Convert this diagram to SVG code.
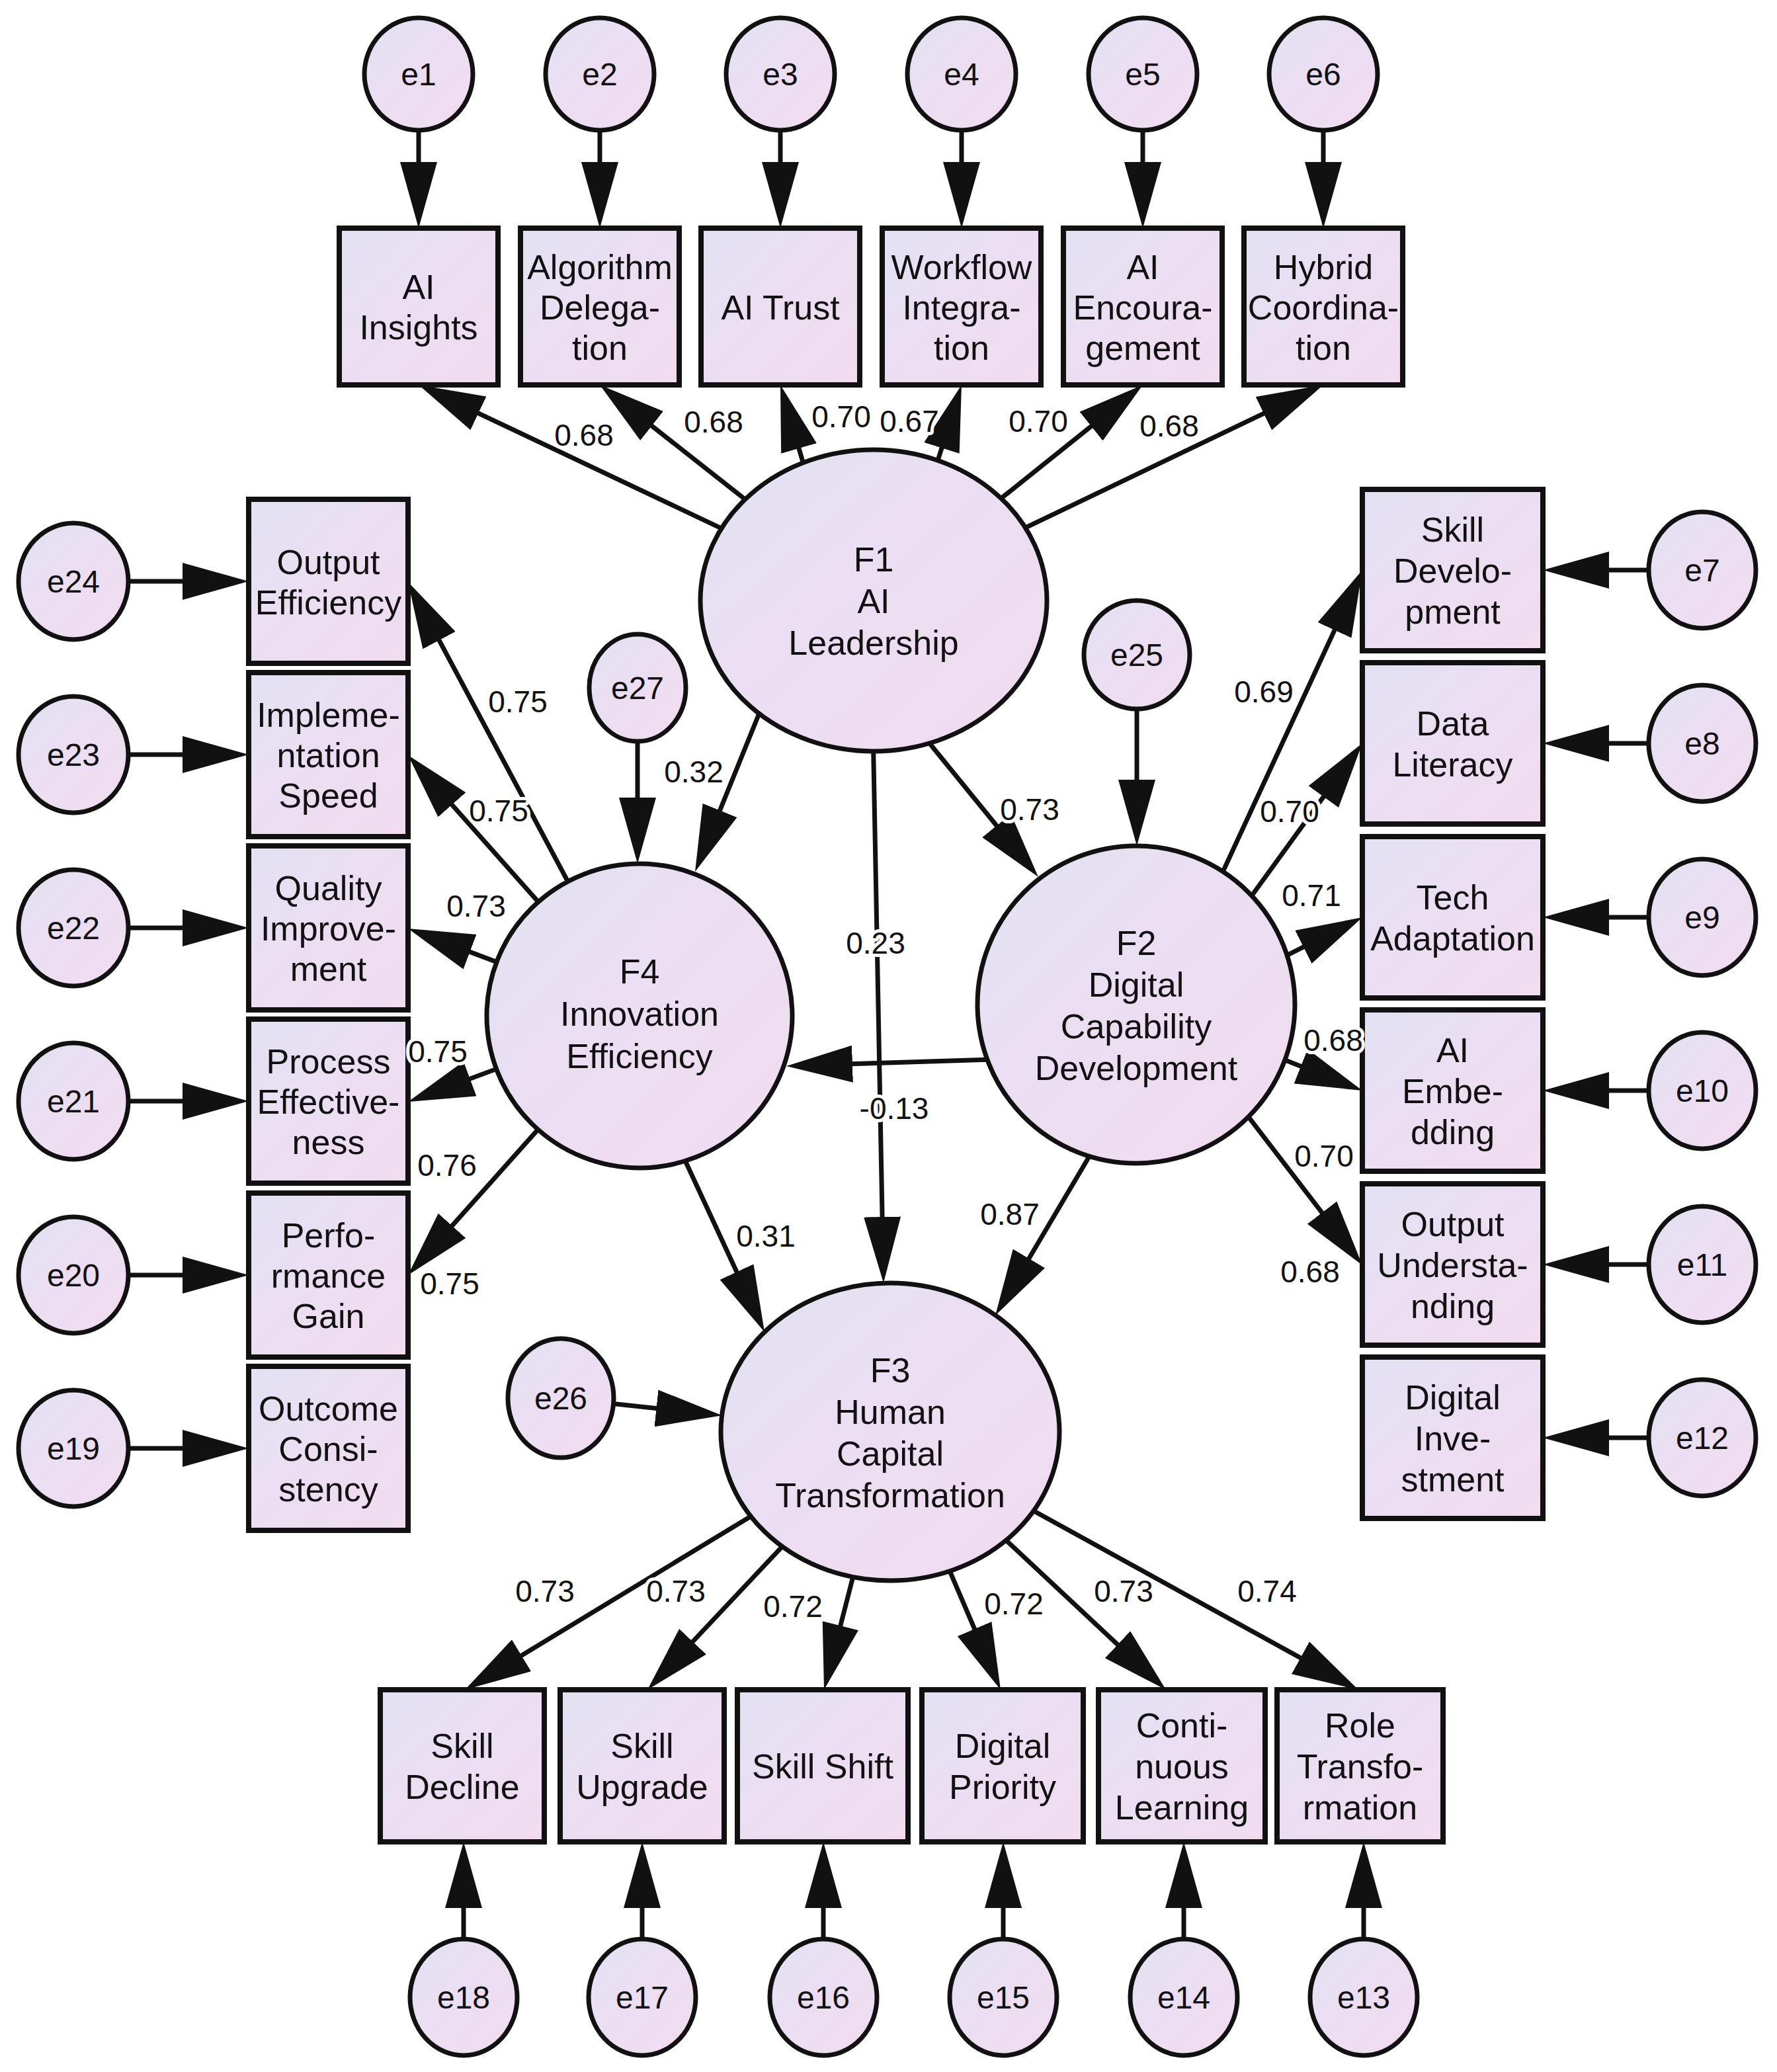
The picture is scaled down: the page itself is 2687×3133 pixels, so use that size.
<svg xmlns="http://www.w3.org/2000/svg" width="2687" height="3133" viewBox="0 0 2687 3133">
<defs>
<linearGradient id="g" x1="0" y1="0" x2="1" y2="1">
<stop offset="0" stop-color="#e2e1f3"/>
<stop offset="0.5" stop-color="#ecdef2"/>
<stop offset="1" stop-color="#f1dbef"/>
</linearGradient>
<marker id="ah" markerUnits="userSpaceOnUse" viewBox="0 0 100 56" markerWidth="100" markerHeight="56" refX="80" refY="28" orient="auto">
<path d="M0,0 L100,28 L0,56 Z" fill="#111"/>
</marker>
<style>
.n{fill:url(#g);stroke:#111;stroke-width:7}
.b{fill:url(#g);stroke:#111;stroke-width:8}
#connectors line{stroke:#111;stroke-width:7;marker-end:url(#ah)}
text{font-family:"Liberation Sans",Arial,sans-serif;fill:#111;text-anchor:middle}
.t{font-size:52px}
.e{font-size:48px}
.l{font-size:46px;stroke:#fff;stroke-width:10px;paint-order:stroke;stroke-linejoin:round}
</style>
</defs>
<rect width="2687" height="3133" fill="#fff"/>

<g id="connectors">
<line x1="633" y1="112" x2="633" y2="325"/>
<line x1="907" y1="112" x2="907" y2="325"/>
<line x1="1180" y1="112" x2="1180" y2="325"/>
<line x1="1454" y1="112" x2="1454" y2="325"/>
<line x1="1728" y1="112" x2="1728" y2="325"/>
<line x1="2001" y1="112" x2="2001" y2="325"/>
<line x1="1321" y1="908" x2="651.1" y2="590.6"/>
<line x1="1321" y1="908" x2="922.7" y2="594.4"/>
<line x1="1232" y1="760" x2="1185.6" y2="601.2"/>
<line x1="1398" y1="760" x2="1448" y2="601.1"/>
<line x1="1321" y1="908" x2="1712.4" y2="594.5"/>
<line x1="1321" y1="908" x2="1983" y2="590.6"/>
<line x1="111" y1="879" x2="356" y2="879"/>
<line x1="111" y1="1141" x2="356" y2="1141"/>
<line x1="111" y1="1403" x2="356" y2="1403"/>
<line x1="111" y1="1665" x2="356" y2="1665"/>
<line x1="111" y1="1928" x2="356" y2="1928"/>
<line x1="111" y1="2190" x2="356" y2="2190"/>
<line x1="967" y1="1536" x2="626.4" y2="897.6"/>
<line x1="967" y1="1536" x2="630.3" y2="1157"/>
<line x1="967" y1="1536" x2="635.7" y2="1411.1"/>
<line x1="967" y1="1536" x2="635.7" y2="1659"/>
<line x1="967" y1="1536" x2="630.3" y2="1913.1"/>
<line x1="2574" y1="862" x2="2353" y2="862"/>
<line x1="2574" y1="1124" x2="2353" y2="1124"/>
<line x1="2574" y1="1387" x2="2353" y2="1387"/>
<line x1="2574" y1="1649" x2="2353" y2="1649"/>
<line x1="2574" y1="1912" x2="2353" y2="1912"/>
<line x1="2574" y1="2174" x2="2353" y2="2174"/>
<line x1="1838.4" y1="1341.2" x2="2051.6" y2="880.2"/>
<line x1="1880.5" y1="1371.3" x2="2048.3" y2="1140"/>
<line x1="1925.4" y1="1454.8" x2="2042.3" y2="1396"/>
<line x1="1918.1" y1="1593" x2="2041.4" y2="1641.7"/>
<line x1="1872.7" y1="1669.2" x2="2047.8" y2="1897.1"/>
<line x1="701" y1="3020" x2="701" y2="2805"/>
<line x1="971" y1="3020" x2="971" y2="2805"/>
<line x1="1245" y1="3020" x2="1245" y2="2805"/>
<line x1="1517" y1="3020" x2="1517" y2="2805"/>
<line x1="1790" y1="3020" x2="1790" y2="2805"/>
<line x1="2062" y1="3020" x2="2062" y2="2805"/>
<line x1="1346" y1="2165" x2="720.1" y2="2544.7"/>
<line x1="1346" y1="2165" x2="992.7" y2="2540.5"/>
<line x1="1346" y1="2165" x2="1251" y2="2535.6"/>
<line x1="1346" y1="2165" x2="1505.1" y2="2536.6"/>
<line x1="1346" y1="2165" x2="1748.4" y2="2541.4"/>
<line x1="1346" y1="2165" x2="2036.5" y2="2545.4"/>
<line x1="1160" y1="1049" x2="1058.5" y2="1299.5"/>
<line x1="1391" y1="1106" x2="1557.4" y2="1310.5"/>
<line x1="1320" y1="1100" x2="1335.6" y2="1920"/>
<line x1="1500" y1="1602" x2="1209" y2="1611.3"/>
<line x1="1024" y1="1729" x2="1147.6" y2="1995.8"/>
<line x1="1661" y1="1725" x2="1515.2" y2="1971.8"/>
<line x1="1719" y1="990" x2="1719" y2="1259"/>
<line x1="964" y1="1040" x2="964" y2="1286"/>
<line x1="848" y1="2114" x2="1072" y2="2138"/>
</g>

<g id="F1"><ellipse class="n" cx="1321" cy="908" rx="262" ry="228"/>
<text class="t" x="1321" y="864">F1</text><text class="t" x="1321" y="927">AI</text><text class="t" x="1321" y="990">Leadership</text></g>
<g id="F2"><ellipse class="n" cx="1718" cy="1519" rx="240" ry="240"/>
<text class="t" x="1718" y="1443.5">F2</text><text class="t" x="1718" y="1506.5">Digital</text><text class="t" x="1718" y="1569.5">Capability</text><text class="t" x="1718" y="1632.5">Development</text></g>
<g id="F3"><ellipse class="n" cx="1346" cy="2165" rx="256" ry="225"/>
<text class="t" x="1346" y="2089.5">F3</text><text class="t" x="1346" y="2152.5">Human</text><text class="t" x="1346" y="2215.5">Capital</text><text class="t" x="1346" y="2278.5">Transformation</text></g>
<g id="F4"><ellipse class="n" cx="967" cy="1536" rx="231" ry="230"/>
<text class="t" x="967" y="1487">F4</text><text class="t" x="967" y="1551">Innovation</text><text class="t" x="967" y="1615">Efficiency</text></g>

<g id="AI_Insights"><rect class="b" x="513" y="345" width="240" height="237"/>
<text class="t" x="633" y="452">AI</text><text class="t" x="633" y="513">Insights</text></g>
<g id="Algorithm_Delegation"><rect class="b" x="787" y="345" width="240" height="237"/>
<text class="t" x="907" y="421.5">Algorithm</text><text class="t" x="907" y="482.5">Delega-</text><text class="t" x="907" y="543.5">tion</text></g>
<g id="AI_Trust"><rect class="b" x="1060" y="345" width="240" height="237"/>
<text class="t" x="1180" y="482.5">AI Trust</text></g>
<g id="Workflow_Integration"><rect class="b" x="1334" y="345" width="240" height="237"/>
<text class="t" x="1454" y="421.5">Workflow</text><text class="t" x="1454" y="482.5">Integra-</text><text class="t" x="1454" y="543.5">tion</text></g>
<g id="AI_Encouragement"><rect class="b" x="1608" y="345" width="240" height="237"/>
<text class="t" x="1728" y="421.5">AI</text><text class="t" x="1728" y="482.5">Encoura-</text><text class="t" x="1728" y="543.5">gement</text></g>
<g id="Hybrid_Coordination"><rect class="b" x="1881" y="345" width="240" height="237"/>
<text class="t" x="2001" y="421.5">Hybrid</text><text class="t" x="2001" y="482.5">Coordina-</text><text class="t" x="2001" y="543.5">tion</text></g>

<g id="Output_Efficiency"><rect class="b" x="376" y="755" width="241" height="248"/>
<text class="t" x="496.5" y="867.5">Output</text><text class="t" x="496.5" y="928.5">Efficiency</text></g>
<g id="Implementation_Speed"><rect class="b" x="376" y="1017" width="241" height="248"/>
<text class="t" x="496.5" y="1099">Impleme-</text><text class="t" x="496.5" y="1160">ntation</text><text class="t" x="496.5" y="1221">Speed</text></g>
<g id="Quality_Improvement"><rect class="b" x="376" y="1279" width="241" height="248"/>
<text class="t" x="496.5" y="1361">Quality</text><text class="t" x="496.5" y="1422">Improve-</text><text class="t" x="496.5" y="1483">ment</text></g>
<g id="Process_Effectiveness"><rect class="b" x="376" y="1541" width="241" height="248"/>
<text class="t" x="496.5" y="1623">Process</text><text class="t" x="496.5" y="1684">Effective-</text><text class="t" x="496.5" y="1745">ness</text></g>
<g id="Performance_Gain"><rect class="b" x="376" y="1804" width="241" height="248"/>
<text class="t" x="496.5" y="1886">Perfo-</text><text class="t" x="496.5" y="1947">rmance</text><text class="t" x="496.5" y="2008">Gain</text></g>
<g id="Outcome_Consistency"><rect class="b" x="376" y="2066" width="241" height="248"/>
<text class="t" x="496.5" y="2148">Outcome</text><text class="t" x="496.5" y="2209">Consi-</text><text class="t" x="496.5" y="2270">stency</text></g>

<g id="Skill_Development"><rect class="b" x="2060" y="740" width="273" height="244"/>
<text class="t" x="2196.5" y="819">Skill</text><text class="t" x="2196.5" y="881">Develo-</text><text class="t" x="2196.5" y="943">pment</text></g>
<g id="Data_Literacy"><rect class="b" x="2060" y="1002" width="273" height="244"/>
<text class="t" x="2196.5" y="1112">Data</text><text class="t" x="2196.5" y="1174">Literacy</text></g>
<g id="Tech_Adaptation"><rect class="b" x="2060" y="1265" width="273" height="244"/>
<text class="t" x="2196.5" y="1375">Tech</text><text class="t" x="2196.5" y="1437">Adaptation</text></g>
<g id="AI_Embedding"><rect class="b" x="2060" y="1527" width="273" height="244"/>
<text class="t" x="2196.5" y="1606">AI</text><text class="t" x="2196.5" y="1668">Embe-</text><text class="t" x="2196.5" y="1730">dding</text></g>
<g id="Output_Understanding"><rect class="b" x="2060" y="1790" width="273" height="244"/>
<text class="t" x="2196.5" y="1869">Output</text><text class="t" x="2196.5" y="1931">Understa-</text><text class="t" x="2196.5" y="1993">nding</text></g>
<g id="Digital_Investment"><rect class="b" x="2060" y="2052" width="273" height="244"/>
<text class="t" x="2196.5" y="2131">Digital</text><text class="t" x="2196.5" y="2193">Inve-</text><text class="t" x="2196.5" y="2255">stment</text></g>

<g id="Skill_Decline"><rect class="b" x="575" y="2555" width="248" height="230"/>
<text class="t" x="699" y="2658">Skill</text><text class="t" x="699" y="2720">Decline</text></g>
<g id="Skill_Upgrade"><rect class="b" x="847" y="2555" width="248" height="230"/>
<text class="t" x="971" y="2658">Skill</text><text class="t" x="971" y="2720">Upgrade</text></g>
<g id="Skill_Shift"><rect class="b" x="1115" y="2555" width="258" height="230"/>
<text class="t" x="1244" y="2689">Skill Shift</text></g>
<g id="Digital_Priority"><rect class="b" x="1394" y="2555" width="244" height="230"/>
<text class="t" x="1516" y="2658">Digital</text><text class="t" x="1516" y="2720">Priority</text></g>
<g id="Continuous_Learning"><rect class="b" x="1661" y="2555" width="252" height="230"/>
<text class="t" x="1787" y="2627">Conti-</text><text class="t" x="1787" y="2689">nuous</text><text class="t" x="1787" y="2751">Learning</text></g>
<g id="Role_Transformation"><rect class="b" x="1931" y="2555" width="251" height="230"/>
<text class="t" x="2056.5" y="2627">Role</text><text class="t" x="2056.5" y="2689">Transfo-</text><text class="t" x="2056.5" y="2751">rmation</text></g>

<g id="e1"><ellipse class="n" cx="633" cy="112" rx="82" ry="85"/><text class="e" x="633" y="129">e1</text></g>
<g id="e2"><ellipse class="n" cx="907" cy="112" rx="82" ry="85"/><text class="e" x="907" y="129">e2</text></g>
<g id="e3"><ellipse class="n" cx="1180" cy="112" rx="82" ry="85"/><text class="e" x="1180" y="129">e3</text></g>
<g id="e4"><ellipse class="n" cx="1454" cy="112" rx="82" ry="85"/><text class="e" x="1454" y="129">e4</text></g>
<g id="e5"><ellipse class="n" cx="1728" cy="112" rx="82" ry="85"/><text class="e" x="1728" y="129">e5</text></g>
<g id="e6"><ellipse class="n" cx="2001" cy="112" rx="82" ry="85"/><text class="e" x="2001" y="129">e6</text></g>
<g id="e7"><ellipse class="n" cx="2574" cy="862" rx="81" ry="88"/><text class="e" x="2574" y="879">e7</text></g>
<g id="e8"><ellipse class="n" cx="2574" cy="1124" rx="81" ry="88"/><text class="e" x="2574" y="1141">e8</text></g>
<g id="e9"><ellipse class="n" cx="2574" cy="1387" rx="81" ry="88"/><text class="e" x="2574" y="1404">e9</text></g>
<g id="e10"><ellipse class="n" cx="2574" cy="1649" rx="81" ry="88"/><text class="e" x="2574" y="1666">e10</text></g>
<g id="e11"><ellipse class="n" cx="2574" cy="1912" rx="81" ry="88"/><text class="e" x="2574" y="1929">e11</text></g>
<g id="e12"><ellipse class="n" cx="2574" cy="2174" rx="81" ry="88"/><text class="e" x="2574" y="2191">e12</text></g>
<g id="e13"><ellipse class="n" cx="2062" cy="3020" rx="81" ry="88"/><text class="e" x="2062" y="3037">e13</text></g>
<g id="e14"><ellipse class="n" cx="1790" cy="3020" rx="81" ry="88"/><text class="e" x="1790" y="3037">e14</text></g>
<g id="e15"><ellipse class="n" cx="1517" cy="3020" rx="81" ry="88"/><text class="e" x="1517" y="3037">e15</text></g>
<g id="e16"><ellipse class="n" cx="1245" cy="3020" rx="81" ry="88"/><text class="e" x="1245" y="3037">e16</text></g>
<g id="e17"><ellipse class="n" cx="971" cy="3020" rx="81" ry="88"/><text class="e" x="971" y="3037">e17</text></g>
<g id="e18"><ellipse class="n" cx="701" cy="3020" rx="81" ry="88"/><text class="e" x="701" y="3037">e18</text></g>
<g id="e19"><ellipse class="n" cx="111" cy="2190" rx="83" ry="88"/><text class="e" x="111" y="2207">e19</text></g>
<g id="e20"><ellipse class="n" cx="111" cy="1928" rx="83" ry="88"/><text class="e" x="111" y="1945">e20</text></g>
<g id="e21"><ellipse class="n" cx="111" cy="1665" rx="83" ry="88"/><text class="e" x="111" y="1682">e21</text></g>
<g id="e22"><ellipse class="n" cx="111" cy="1403" rx="83" ry="88"/><text class="e" x="111" y="1420">e22</text></g>
<g id="e23"><ellipse class="n" cx="111" cy="1141" rx="83" ry="88"/><text class="e" x="111" y="1158">e23</text></g>
<g id="e24"><ellipse class="n" cx="111" cy="879" rx="83" ry="88"/><text class="e" x="111" y="896">e24</text></g>
<g id="e25"><ellipse class="n" cx="1719" cy="990" rx="80" ry="82"/><text class="e" x="1719" y="1007">e25</text></g>
<g id="e26"><ellipse class="n" cx="848" cy="2114" rx="80" ry="90"/><text class="e" x="848" y="2131">e26</text></g>
<g id="e27"><ellipse class="n" cx="964" cy="1040" rx="73" ry="81"/><text class="e" x="964" y="1057">e27</text></g>

<g id="labels">
<text class="l" x="883" y="674">0.68</text>
<text class="l" x="1079" y="654">0.68</text>
<text class="l" x="1272" y="646">0.70</text>
<text class="l" x="1375" y="653">0.67</text>
<text class="l" x="1570" y="653">0.70</text>
<text class="l" x="1768" y="660">0.68</text>
<text class="l" x="783" y="1077">0.75</text>
<text class="l" x="754" y="1242">0.75</text>
<text class="l" x="720" y="1386">0.73</text>
<text class="l" x="662" y="1606">0.75</text>
<text class="l" x="676" y="1778">0.76</text>
<text class="l" x="680" y="1957">0.75</text>
<text class="l" x="1049" y="1183">0.32</text>
<text class="l" x="1557" y="1240">0.73</text>
<text class="l" x="1324" y="1442">0.23</text>
<text class="l" x="1352" y="1692">-0.13</text>
<text class="l" x="1158" y="1885">0.31</text>
<text class="l" x="1527" y="1852">0.87</text>
<text class="l" x="1911" y="1062">0.69</text>
<text class="l" x="1950" y="1243">0.70</text>
<text class="l" x="1983" y="1370">0.71</text>
<text class="l" x="2016" y="1589">0.68</text>
<text class="l" x="2002" y="1764">0.70</text>
<text class="l" x="1981" y="1939">0.68</text>
<text class="l" x="824" y="2422">0.73</text>
<text class="l" x="1022" y="2422">0.73</text>
<text class="l" x="1199" y="2445">0.72</text>
<text class="l" x="1533" y="2441">0.72</text>
<text class="l" x="1699" y="2422">0.73</text>
<text class="l" x="1916" y="2422">0.74</text>
</g>
</svg>
